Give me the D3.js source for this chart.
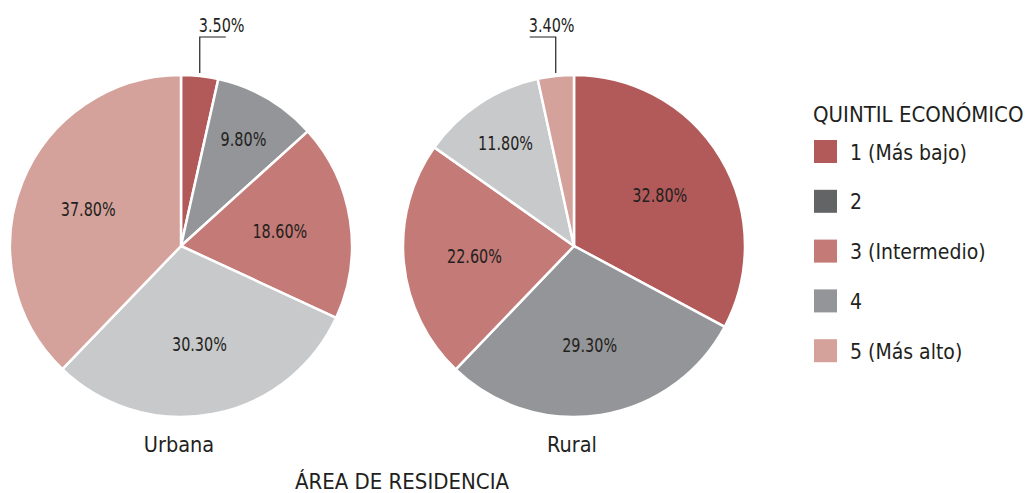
<!DOCTYPE html>
<html>
<head>
<meta charset="utf-8">
<script src="https://cdn.jsdelivr.net/npm/d3@7"></script>
<style>
  body { margin: 0; background: #fff; }
  text { font-family: "Liberation Sans Narrow", "DejaVu Sans Condensed", sans-serif; fill: #231f20; }
</style>
</head>
<body>
<svg width="1027" height="493"></svg>
<script>
// data
var quintiles = ["1 (Más bajo)", "2", "3 (Intermedio)", "4", "5 (Más alto)"];
var urbana = [3.5, 9.8, 18.6, 30.3, 37.8];
var rural = [32.8, 29.3, 22.6, 11.8, 3.4];
var areas = ["Urbana", "Rural"];
var sliceColors = ["#b25a59", "#939598", "#c47a76", "#c8c9cb", "#d4a29b"];
var legendColors = ["#b25a59", "#636466", "#c47a76", "#939598", "#d4a29b"];

var svg = d3.select("svg");
var R = 171;

var pie = d3.pie().sort(null).value(function(d) { return d; });
var arc = d3.arc().innerRadius(0).outerRadius(R);

fmt = function(v) { return v.toFixed(2) + "%"; };

// narrow labels, squeezed horizontally
function pctLabel(sel, x, y, anchor) {
  return sel.append("text")
    .attr("transform", "translate(" + x + "," + y + ") scale(0.8,1)")
    .attr("text-anchor", anchor)
    .style("font-size", "20px");
}

function drawPie(values, cx, cy, name) {
  var g = svg.append("g").attr("transform", "translate(" + cx + "," + cy + ")");
  var arcs = pie(values);

  g.selectAll("path")
      .data(arcs)
    .enter().append("path")
      .attr("d", arc)
      .style("fill", function(d, i) { return sliceColors[i]; })
      .style("stroke", "#fff")
      .style("stroke-width", 2.5);

  // labels inside bigger slices, narrow slices pushed outward
  arcs.filter(function(d) { return d.value > 5; }).forEach(function(d) {
    var r = d.value < 15 ? 124 : 100;
    var c = d3.arc().innerRadius(r).outerRadius(r).centroid(d);
    pctLabel(g, c[0], c[1], "middle")
      .attr("dy", "0.36em")
      .text(fmt(d.value));
  });

  // small slice gets a leader line
  arcs.filter(function(d) { return d.value <= 5; }).forEach(function(d) {
    var mid = (d.startAngle + d.endAngle) / 2;
    var x = Math.sin(mid) * R;
    var yTop = -R - 38;
    var side = x > 0 ? 1 : -1;
    g.append("path")
      .attr("d", "M" + x + "," + (-R - 2) + "V" + yTop + "h" + (side * 26))
      .style("fill", "none")
      .style("stroke", "#231f20")
      .style("stroke-width", 1.2);
    pctLabel(g, Math.min(x, x + side * 26) - 1, yTop - 5, "start")
      .text(fmt(d.value));
  });

  svg.append("text")
    .attr("x", cx - 2)
    .attr("y", 452)
    .attr("text-anchor", "middle")
    .style("font-size", "21.5px")
    .text(name);
}

drawPie(urbana, 181, 246, areas[0]);
drawPie(rural, 574, 246, areas[1]);

svg.append("text")
  .attr("x", 402)
  .attr("y", 489)
  .attr("text-anchor", "middle")
  .style("font-size", "22px")
  .text("ÁREA DE RESIDENCIA");

// legend
var legend = svg.append("g").attr("transform", "translate(814,0)");
legend.append("text")
  .attr("x", -1)
  .attr("y", 122)
  .style("font-size", "22px")
  .text("QUINTIL ECONÓMICO");

var rows = legend.selectAll("g.row")
    .data(quintiles)
  .enter().append("g")
    .attr("class", "row")
    .attr("transform", function(d, i) { return "translate(0," + (140 + i * 49.8) + ")"; });

rows.append("rect")
  .attr("width", 23)
  .attr("height", 23)
  .style("fill", function(d, i) { return legendColors[i]; });

rows.append("text")
  .attr("x", 36)
  .attr("y", 12)
  .attr("dy", "0.36em")
  .style("font-size", "21px")
  .text(function(d) { return d; });
</script>
</body>
</html>
